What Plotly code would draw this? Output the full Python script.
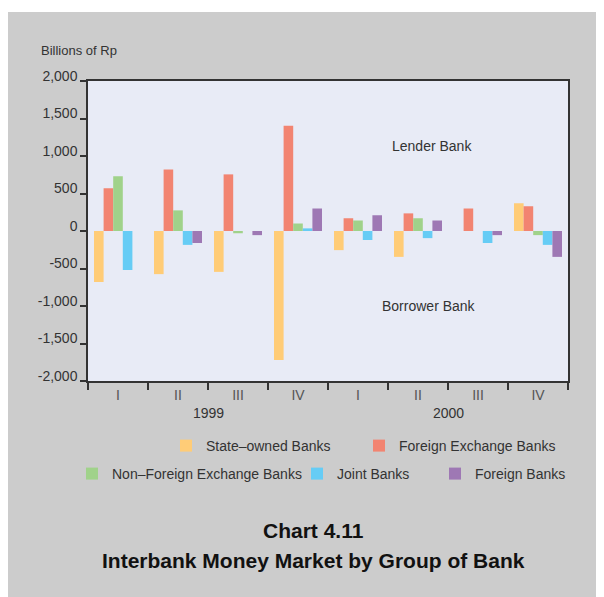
import plotly.graph_objects as go

quarters = ["I", "II", "III", "IV", "I", "II", "III", "IV"]
years = ["1999", "2000"]
series_names = ["State–owned Banks", "Foreign Exchange Banks", "Non–Foreign Exchange Banks",
                "Joint Banks", "Foreign Banks"]
state_owned = [-680, -575, -545, -1720, -255, -345, 0, 370]
foreign_exchange = [570, 820, 755, 1405, 170, 235, 300, 330]
non_foreign_exchange = [730, 275, -30, 100, 140, 170, 0, -55]
joint = [-520, -185, 0, 35, -120, -95, -160, -185]
foreign = [0, -160, -55, 300, 210, 140, -55, -345]
y_ticks = [2000, 1500, 1000, 500, 0, -500, -1000, -1500, -2000]
y_ticktext = ["2,000", "1,500", "1,000", "500", "0", "-500", "-1,000", "-1,500", "-2,000"]

colors = ["#ffcc77", "#f28471", "#a0d28a", "#66ccf5", "#9e78b4"]
series = [state_owned, foreign_exchange, non_foreign_exchange, joint, foreign]
legend_ids = ["legend", "legend2", "legend3", "legend4", "legend5"]

xpos = list(range(len(quarters)))
FONT = "Liberation Sans, Arial, sans-serif"
TXT = "#333333"

fig = go.Figure()
for name, vals, col, lg in zip(series_names, series, colors, legend_ids):
    fig.add_trace(go.Bar(x=xpos, y=vals, name=name, marker_color=col,
                         marker_line_width=0, legend=lg))

# plot geometry in page pixels: x 88..568, y 81..381 (page has 8px body margin)
def px_x(p):
    return (p - 88) / 480.0

def px_y(p):
    return (381 - p) / 300.0

boundaries = [i - 0.5 for i in range(len(quarters) + 1)]

fig.update_layout(
    width=596, height=589,
    margin=dict(l=80, r=36, t=73, b=216),
    paper_bgcolor="#cccccc",
    plot_bgcolor="#e8ebf6",
    font=dict(family=FONT, size=14, color=TXT),
    barmode="group", bargap=0.2, bargroupgap=0,
    xaxis=dict(range=[-0.5, 7.5], tickvals=xpos, ticktext=quarters,
               showline=True, linecolor="#333333", linewidth=1.5, mirror=True,
               ticks="", showgrid=False, zeroline=False,
               ticklabelstandoff=0,
               minor=dict(tickvals=boundaries, ticks="outside", ticklen=7,
                          tickcolor="#333333", tickwidth=1.5, showgrid=False),
               tickfont=dict(size=14, color="#555555")),
    xaxis2=dict(range=[-0.5, 7.5], overlaying="x", anchor="free", position=0.5,
                side="bottom", showline=True, linecolor="#333333", linewidth=1.5,
                tickvals=boundaries, ticks="outside", ticklen=7, tickcolor="#333333",
                tickwidth=1.5, showticklabels=False, showgrid=False, zeroline=False),
    yaxis=dict(range=[-2000, 2000], tickvals=y_ticks, ticktext=y_ticktext,
               showline=True, linecolor="#333333", linewidth=1.5, mirror=True,
               ticks="outside", ticklen=6, tickcolor="#333333", tickwidth=1.5,
               showgrid=False, zeroline=False, ticklabelshift=-5,
               tickfont=dict(size=14, color=TXT)),
    showlegend=True,
)

# white strip along the top edge of the page
fig.add_shape(type="rect", xref="paper", yref="paper",
              x0=px_x(0), x1=px_x(700), y0=px_y(12), y1=px_y(0),
              fillcolor="white", line_width=0, layer="below")

legend_pos = [(181, 446), (374, 446), (87, 474), (312, 474), (450, 474)]
for lg, (lx, ly) in zip(legend_ids, legend_pos):
    fig.update_layout({lg: dict(x=px_x(lx - 15), y=px_y(ly), xanchor="left", yanchor="middle",
                                bgcolor="rgba(0,0,0,0)", orientation="h",
                                font=dict(size=14, color=TXT))})

ann = [
    dict(text="Billions of Rp", x=px_x(39), y=px_y(51), xanchor="left", yanchor="middle",
         font=dict(size=13, color=TXT)),
    dict(text="Lender Bank", x=px_x(432), y=px_y(146), xanchor="center", yanchor="middle",
         font=dict(size=14, color=TXT)),
    dict(text="Borrower Bank", x=px_x(429), y=px_y(306), xanchor="center", yanchor="middle",
         font=dict(size=14, color=TXT)),
    dict(text="<b>Chart 4.11</b>", x=px_x(313), y=px_y(530), xanchor="center", yanchor="middle",
         font=dict(size=21, color="#111111")),
    dict(text="<b>Interbank Money Market by Group of Bank</b>", x=px_x(313), y=px_y(560),
         xanchor="center", yanchor="middle", font=dict(size=21, color="#111111")),
]
for a in ann:
    a.update(xref="paper", yref="paper", showarrow=False)
    fig.add_annotation(**a)

for i, yr in enumerate(years):
    fig.add_annotation(text=yr, x=1.5 + 4 * i, xref="x", y=px_y(413), yref="paper",
                       yanchor="middle", showarrow=False, font=dict(size=14, color=TXT))

fig.write_html("out.html")
